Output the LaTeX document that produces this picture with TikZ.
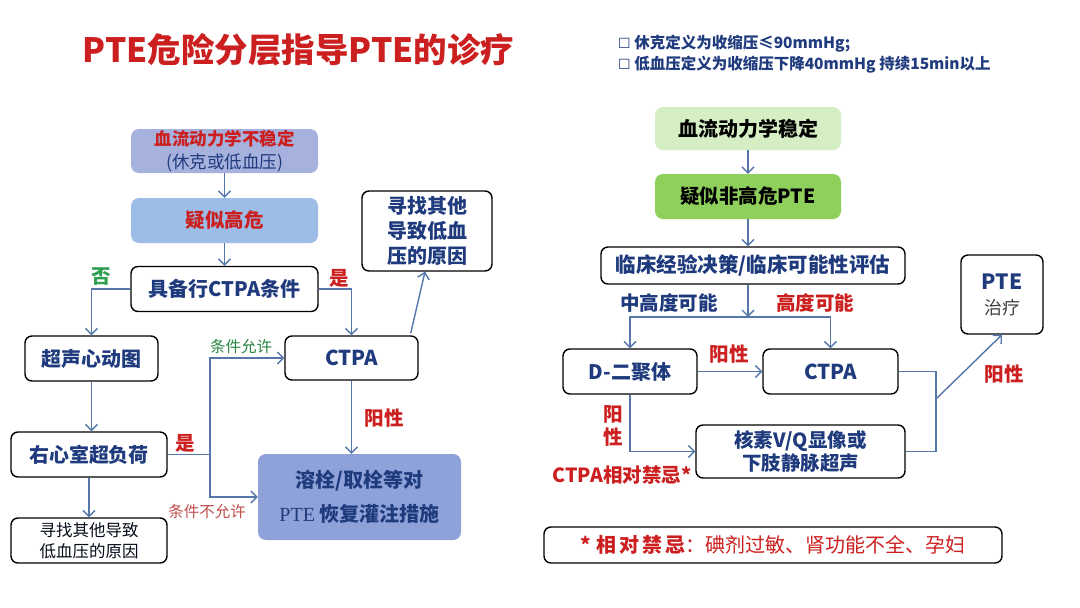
\documentclass[tikz,border=0pt]{standalone}
\usepackage{fontspec}
\setmainfont{Noto Sans CJK SC}
\newfontfamily\dejavu{DejaVu Sans}
\newfontfamily\serifpte{Liberation Serif}
\usetikzlibrary{arrows.meta,calc}
\definecolor{navy}{HTML}{1F3B7D}
\definecolor{redt}{HTML}{CC1F1F}
\definecolor{greent}{HTML}{2E9E4F}
\definecolor{brownred}{HTML}{C0504D}
\definecolor{arrowc}{HTML}{5577AA}
\definecolor{boxA}{HTML}{A6B1DD}
\definecolor{boxB}{HTML}{9DBCE6}
\definecolor{boxT}{HTML}{8EA1D9}
\definecolor{lgreen}{HTML}{D6EEC4}
\definecolor{mgreen}{HTML}{8FCF5C}
\newcommand{\fs}[1]{\fontsize{#1}{#1}\selectfont}
\tikzset{
  wbox/.style={draw=black, line width=1.4pt, rounded corners=7pt, fill=white, text=navy,
    font=\bfseries\fs{20}, align=center, inner sep=0pt},
  fbox/.style={rounded corners=8pt, align=center, inner sep=0pt, font=\bfseries\fs{19.5}},
  arr/.style={draw=arrowc, line width=1.4pt, -{Straight Barb[length=6pt,width=12pt,line width=1.4pt]}},
  ln/.style={draw=arrowc, line width=1.4pt},
  lab/.style={font=\bfseries\fs{19.5}, inner sep=0pt},
}
\begin{document}
\begin{tikzpicture}[x=1pt,y=-1pt]
\useasboundingbox (0,0) rectangle (1080,608);
\fill[white] (0,0) rectangle (1080,608);

% title
\node[text=redt, font=\bfseries\fs{33.5}, inner sep=0pt] (title) at (298.5,50) {PTE危险分层指导PTE的诊疗};

% ---------- left diagram ----------
\node[fbox, fill=boxA, minimum width=187pt, minimum height=44pt] (A) at (224.5,151)
  {\textcolor{redt}{\bfseries\fs{17.5}血流动力学不稳定}\\[3pt]{\mdseries\fs{17.5}\color{navy}(休克或低血压)}};
\node[fbox, fill=boxB, minimum width=187pt, minimum height=45pt, text=redt] (B) at (224.5,220.5) {疑似高危};
\node[wbox, minimum width=187pt, minimum height=45pt] (C) at (224.5,289) {具备行CTPA条件};
\node[wbox, minimum width=130pt, minimum height=80pt, align=center] (R1) at (427,231)
  {寻找其他\\[5pt]导致低血\\[5pt]压的原因};
\node[wbox, minimum width=133pt, minimum height=45pt] (E) at (91.5,358.5) {超声心动图};
\node[wbox, minimum width=133pt, minimum height=44pt, font=\bfseries\fs{20.5}] (CT1) at (351.5,358) {CTPA};
\node[wbox, minimum width=156pt, minimum height=45pt] (RV) at (89,454.5) {右心室超负荷};
\node[fbox, fill=boxT, minimum width=203pt, minimum height=86pt, text=navy, font=\bfseries\fs{20}] (T) at (359.5,497)
  {溶栓/取栓等对\\[12pt]{\serifpte\mdseries PTE} 恢复灌注措施};
\node[wbox, minimum width=156pt, minimum height=45pt, font=\fs{16.5}, text={black!80!navy}] (L) at (89,540.5)
  {寻找其他导致\\[4pt]低血压的原因};

\draw[arr] (A.south) -- (B.north);
\draw[arr] (B.south) -- (C.north);
\draw[arr] (C.west) -| (E.north);
\draw[arr] (C.east) -| (CT1.north);
\draw[arr] ($(CT1.north east)+(-8,-2)$) -- ($(R1.south)+(-2,0)$);
\draw[arr] (E.south) -- (E.south |- RV.north);
\draw[arr] (RV.south) -- (L.north);
\coordinate (J) at (210,454.5);
\draw[ln] (RV.east) -- (J);
\draw[arr] (J) |- (CT1.west);
\draw[arr] (J) |- (T.west);
\draw[arr] (CT1.south) -- (CT1.south |- T.north);

\node[lab, text=greent] (no) at (101,277) {否};
\node[lab, text=redt] (yes1) at (339,278) {是};
\node[lab, text=redt] (yes2) at (185,443) {是};
\node[inner sep=0pt, font=\fs{15.5}, text=greent!85!black] (ok) at (241,347) {条件允许};
\node[inner sep=0pt, font=\fs{15.5}, text=brownred] (nok) at (207,512) {条件不允许};
\node[lab, text=redt] (pos1) at (384,418) {阳性};

% ---------- right diagram ----------
\node[anchor=west, inner sep=0pt, text=navy, font=\bfseries\fs{15.5}, align=left] (note) at (618,54.5)
  {{\dejavu\mdseries\fs{14}☐}\ 休克定义为收缩压≤90mmHg;\\[3pt]{\dejavu\mdseries\fs{14}☐}\ 低血压定义为收缩压下降40mmHg 持续15min以上};

\node[fbox, fill=lgreen, minimum width=186pt, minimum height=43pt, font=\bfseries\fs{20}] (G1) at (748,128.5) {血流动力学稳定};
\node[fbox, fill=mgreen, minimum width=186pt, minimum height=45pt] (G2) at (748,196.5) {疑似非高危PTE};
\node[wbox, minimum width=304pt, minimum height=37pt, font=\bfseries\fs{20.5}] (K) at (753,265.5) {临床经验决策/临床可能性评估};
\node[wbox, minimum width=134pt, minimum height=45pt] (D) at (630,371.5) {D-二聚体};
\node[wbox, minimum width=135pt, minimum height=45pt, font=\bfseries\fs{20.5}] (CT2) at (830.5,371.5) {CTPA};
\node[wbox, minimum width=209pt, minimum height=53pt, font=\bfseries\fs{19.5}] (N) at (800.5,451.5) {核素V/Q显像或\\[2pt]下肢静脉超声};
\node[wbox, minimum width=82pt, minimum height=79pt, font=\bfseries\fs{21}] (P) at (1002,294.5)
  {PTE\\[4pt]{\mdseries\fs{18}\color{black!75}治疗}};
\node[wbox, minimum width=458pt, minimum height=36pt, text=redt, font=\fs{20}] (F) at (773,545)
  {{\bfseries *\ 相\hspace{3pt}对\hspace{3pt}禁\hspace{3pt}忌}：碘剂过敏、肾功能不全、孕妇};

\draw[arr] (G1.south) -- (G2.north);
\draw[arr] (G2.south) -- (G2.south |- K.north);
\coordinate (M) at (748,317);
\draw[arr] (M |- K.south) -- (M);
\draw[arr] (M) -| (D.north);
\draw[arr] (M) -| (CT2.north);
\draw[arr] (D.east) -- (CT2.west);
\draw[arr] (D.south) |- (N.west);
\coordinate (Qb) at (936,451.5);
\coordinate (Qs) at (937,398);
\draw[ln] (CT2.east) -| (Qb) -- (N.east);
\draw[arr] (Qs) -- (P.south);

\node[lab, text=navy] (mid) at (669,303) {中高度可能};
\node[lab, text=redt] (high) at (815,303) {高度可能};
\node[lab, text=redt] (pos2) at (729,354) {阳性};
\node[lab, text=redt, align=center] (pos3) at (613,426) {阳\\[3pt]性};
\node[lab, text=redt] (contra) at (622,475) {CTPA相对禁忌*};
\node[lab, text=redt] (pos4) at (1004,374) {阳性};
\end{tikzpicture}
\end{document}
